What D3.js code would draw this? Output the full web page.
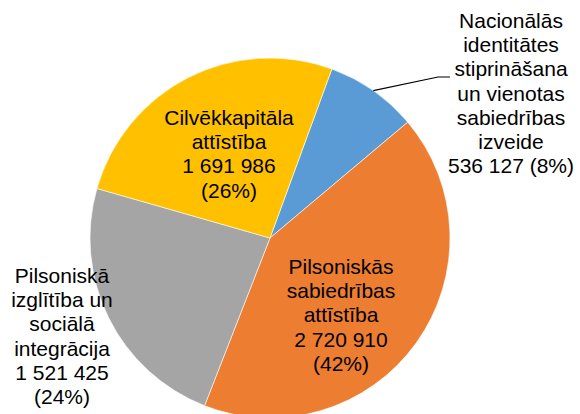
<!DOCTYPE html>
<html>
<head>
<meta charset="utf-8">
<script src="https://cdn.jsdelivr.net/npm/d3@7"></script>
<style>
  html, body { margin: 0; padding: 0; background: #fff; }
  svg { display: block; font-family: "Liberation Sans", Arial, sans-serif; }
</style>
</head>
<body>
<div id="chart"></div>
<script>
// Data
const categories = [
    "Nacionālās identitātes stiprināšana un vienotas sabiedrības izveide",
    "Pilsoniskās sabiedrības attīstība",
    "Pilsoniskā izglītība un sociālā integrācija",
    "Cilvēkkapitāla attīstība"
];
const values = [536127, 2720910, 1521425, 1691986];
const nameLines = [
    ["Nacionālās", "identitātes", "stiprināšana", "un vienotas", "sabiedrības", "izveide"],
    ["Pilsoniskās", "sabiedrības", "attīstība"],
    ["Pilsoniskā", "izglītība un", "sociālā", "integrācija"],
    ["Cilvēkkapitāla", "attīstība"]
];
const colors = ["#5B9BD5", "#ED7D31", "#A5A5A5", "#FFC000"];

// Chart dimensions
const width = 580;
const height = 414;
const cx = 270;
const cy = 238;
const radius = 180;
const fontSize = 21;
const lineHeight = 24.2;

// label placement (center x, first baseline y), Excel "best fit" style
const labelPos = [
    { x: 511, y: 28, inline: true, leader: true },
    { x: 341, y: 274 },
    { x: 62, y: 283 },
    { x: 229, y: 125 }
];

const locale = d3.formatLocale({ decimal: ",", thousands: "\u00a0", grouping: [3], currency: ["", ""] });
const fmt = locale.format(",d");
const total = d3.sum(values);

const table = categories.map((c, i) => ({
    name: c, value: values[i], lines: nameLines[i], color: colors[i], pos: labelPos[i]
}));

const pie = d3.pie()
    .sort(null)
    .value(d => d.value)
    .startAngle(20.1 * Math.PI / 180)
    .endAngle(20.1 * Math.PI / 180 + 2 * Math.PI);

const arc = d3.arc().innerRadius(0).outerRadius(radius);
const rimArc = d3.arc().innerRadius(radius).outerRadius(radius);

const svg = d3.select("#chart")
    .append("svg")
    .attr("width", width)
    .attr("height", height)
    .attr("viewBox", [0, 0, width, height]);

const g = svg.append("g").attr("transform", `translate(${cx},${cy})`);
const arcs = pie(table);

g.selectAll("path")
    .data(arcs)
    .join("path")
    .attr("d", arc)
    .attr("fill", d => d.data.color)
    .attr("stroke", "#fff")
    .attr("stroke-width", 0.6);

// leader line for the outside label
arcs.filter(d => d.data.pos.leader).forEach(d => {
    const [sx, sy] = rimArc.centroid(d);
    const p = d.data.pos;
    const ex = p.x - 61 - cx;
    const ey = p.y + 49 - cy;
    g.append("polyline")
        .attr("points", [[sx, sy], [ex - 12, ey], [ex, ey]].map(q => q.join(",")).join(" "))
        .attr("fill", "none")
        .attr("stroke", "#000")
        .attr("stroke-width", 1.2);
});

// labels
arcs.forEach(d => {
    const p = d.data.pos;
    const pct = "(" + Math.round(d.data.value / total * 100) + "%)";
    const lines = d.data.lines.slice();
    if (p.inline) {
        lines.push(fmt(d.data.value) + " " + pct);
    } else {
        lines.push(fmt(d.data.value), pct);
    }
    const t = svg.append("text")
        .attr("text-anchor", "middle")
        .attr("font-size", fontSize)
        .attr("fill", "#000");
    lines.forEach((l, i) => {
        t.append("tspan")
            .attr("x", p.x)
            .attr("y", p.y + i * lineHeight)
            .text(l);
    });
});
</script>
</body>
</html>
